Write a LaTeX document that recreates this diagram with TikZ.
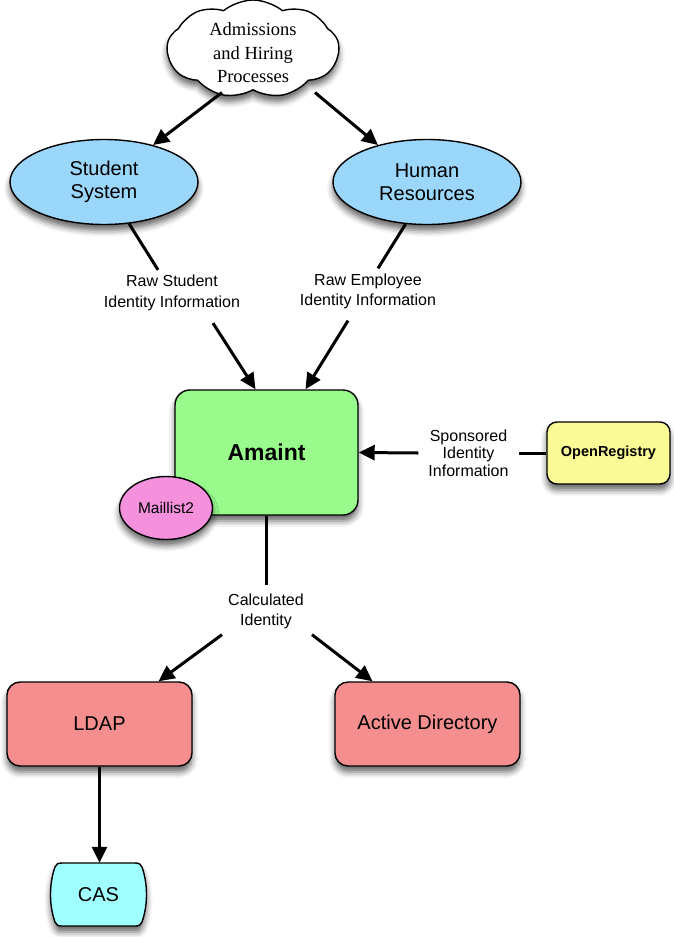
\documentclass[tikz,border=0pt]{standalone}
\usepackage{fontspec}
\setmainfont{Liberation Serif}
\setsansfont{Liberation Sans}
\usetikzlibrary{arrows.meta,shapes.geometric,shapes.symbols,shadows.blur,calc}
\definecolor{sysblue}{RGB}{155,215,250}
\definecolor{amgreen}{RGB}{152,251,140}
\definecolor{mlpink}{RGB}{245,145,220}
\definecolor{oryellow}{RGB}{250,250,150}
\definecolor{dirred}{RGB}{245,142,142}
\definecolor{cascyan}{RGB}{160,255,255}
\tikzset{
  shade3/.style={blur shadow={shadow xshift=0pt,shadow yshift=-6pt,shadow blur radius=6pt,shadow opacity=60}},
  outl/.style={draw=black,line width=1.4pt},
  sysell/.style={ellipse,outl,fill=sysblue,shade3,minimum width=188,minimum height=85,inner sep=0pt,
     align=center,font=\sffamily\fontsize{20}{23}\selectfont},
  rbox/.style={rectangle,rounded corners=13,outl,shade3,inner sep=0pt,align=center},
  lbl/.style={align=center,inner sep=2pt,font=\sffamily\fontsize{16}{19}\selectfont},
  conn/.style={line width=3pt,draw=black},
  arr/.style={conn,-{Triangle[length=16pt,width=15pt]}},
}
\begin{document}
\begin{tikzpicture}[x=1pt,y=-1pt]
\useasboundingbox (0,0) rectangle (673,937);
% cloud
\node[cloud,cloud puffs=9,cloud puff arc=80,aspect=1.75,outl,fill=white,shade3,
      minimum width=172,minimum height=98,inner sep=0pt] (cl) at (253,49) {};
\node[align=center,font=\rmfamily\fontsize{18.5}{23.5}\selectfont,inner sep=0pt] (clt) at (253,53)
  {Admissions\\and Hiring\\Processes};
% systems
\node[sysell] (ss) at (104,182) {Student\\System};
\node[sysell] (hr) at (427,182) {Human\\Resources};
% labels
\node[lbl,font=\sffamily\fontsize{16}{21}\selectfont] (rs) at (172,293) {Raw Student\\Identity Information};
\node[lbl,font=\sffamily\fontsize{16}{20}\selectfont] (re) at (368,291) {Raw Employee\\Identity Information};
% amaint
\node[rbox,rounded corners=15,fill=amgreen,minimum width=183,minimum height=125,
      font=\sffamily\bfseries\fontsize{23}{26}\selectfont] (am) at (266.5,452.5) {Amaint};
\node[ellipse,outl,fill=mlpink,shade3,minimum width=93,minimum height=63,inner sep=0pt,
      font=\sffamily\fontsize{15.5}{18}\selectfont] (ml) at (166,508) {Maillist2};
% open registry
\node[rbox,rounded corners=10,fill=oryellow,minimum width=123,minimum height=62,
      font=\sffamily\bfseries\fontsize{14.5}{17}\selectfont] (or) at (608.5,453) {OpenRegistry};
\node[lbl,font=\sffamily\fontsize{16}{17.5}\selectfont,inner xsep=10pt] (sp) at (468.5,453)
  {Sponsored\\Identity\\Information};
% calculated identity
\node[lbl,font=\sffamily\fontsize{16}{20}\selectfont] (ci) at (266,611) {Calculated\\Identity};
% directories
\node[rbox,fill=dirred,minimum width=185,minimum height=84,
      font=\sffamily\fontsize{20}{23}\selectfont] (ldap) at (99.5,724) {LDAP};
\node[rbox,fill=dirred,minimum width=185,minimum height=84,
      font=\sffamily\fontsize{20}{23}\selectfont] (ad) at (427.5,724) {Active Directory};
% CAS
\draw[outl,fill=cascyan,shade3]
  (62,863) -- (135,863) .. controls (139,863) and (141,864) .. (142,867)
  .. controls (148,884) and (148,905) .. (142,922)
  .. controls (141,925) and (139,926) .. (135,926)
  -- (62,926) .. controls (58,926) and (56,925) .. (55,922)
  .. controls (49,905) and (49,884) .. (55,867)
  .. controls (56,864) and (58,863) .. (62,863) -- cycle;
\node[minimum width=93,minimum height=63,inner sep=0pt,
      font=\sffamily\fontsize{20}{23}\selectfont] (cas) at (98.5,894.5) {CAS};
% connectors
\draw[arr] ([xshift=-31,yshift=-2]cl.south) -- (ss.37);
\draw[arr] ([xshift=62,yshift=-2]cl.south) -- (hr.143);
\draw[conn] (ss.-59) -- ([xshift=-14,yshift=3]rs.north);
\draw[conn] (hr.-117) -- ([xshift=10,yshift=3]re.north);
\draw[arr] ([xshift=41,yshift=-10]rs.south) -- ([xshift=-11]am.north);
\draw[arr] ([xshift=-20,yshift=-10]re.south) -- ([xshift=39]am.north);
\draw[conn] (or.west) -- (sp.east);
\draw[arr] (sp.west) -- (am.east);
\draw[conn] (am.south) -- ([yshift=6]am.south |- ci.north);
\draw[arr] ([xshift=-4,yshift=-4]ci.south west) -- ([xshift=59]ldap.north);
\draw[arr] ([xshift=6,yshift=-4]ci.south east) -- ([xshift=-55]ad.north);
\draw[arr] (ldap.south) -- (ldap.south |- cas.north);
\end{tikzpicture}
\end{document}
